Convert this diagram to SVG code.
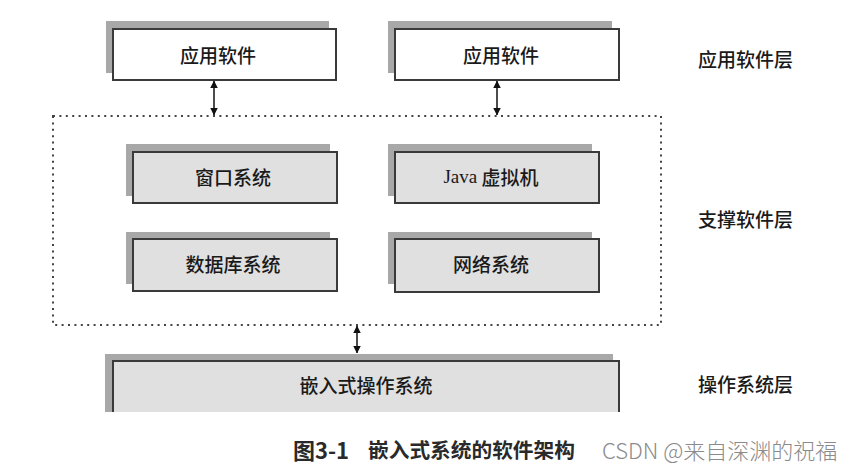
<svg xmlns="http://www.w3.org/2000/svg" width="851" height="473" viewBox="0 0 851 473">
<style>
.sh{fill:#a8a8a8}
.bw{fill:#ffffff;stroke:#3a3a3a;stroke-width:2}
.bg{fill:#e0e0e0;stroke:#3a3a3a;stroke-width:2}
.t{font-family:"Noto Sans CJK SC","Noto Sans",sans-serif;font-size:19px;font-weight:500;fill:#1a1a1a;text-anchor:middle;dominant-baseline:central}
.l{font-family:"Noto Sans CJK SC","Noto Sans",sans-serif;font-size:19px;font-weight:500;fill:#1a1a1a;dominant-baseline:central}
.dot{fill:none;stroke:#444;stroke-width:2;stroke-dasharray:2 4.4}
.ar{stroke:#111;stroke-width:1.5;fill:none;marker-start:url(#ah);marker-end:url(#ah)}
</style>
<defs>
<marker id="ah" viewBox="0 0 8 8" refX="7.5" refY="4" markerWidth="5" markerHeight="5" orient="auto-start-reverse" markerUnits="strokeWidth">
<path d="M0,0 L8,4 L0,8 Z" fill="#111"/>
</marker>
</defs>
<rect width="851" height="473" fill="#ffffff"/>
<g id="support-layer">
<rect class="dot" x="53" y="116" width="608" height="209"/>
</g>
<g id="app1">
<rect class="sh" x="106" y="21" width="223" height="52"/>
<rect class="bw" x="113" y="29" width="223" height="51"/>
<text class="t" x="218" y="54">应用软件</text>
</g>
<g id="app2">
<rect class="sh" x="388" y="21" width="224" height="52"/>
<rect class="bw" x="395" y="29" width="224" height="51"/>
<text class="t" x="501" y="54">应用软件</text>
</g>
<g id="window">
<rect class="sh" x="126" y="144" width="204" height="52"/>
<rect class="bg" x="133" y="152" width="204" height="51"/>
<text class="t" x="233" y="176">窗口系统</text>
</g>
<g id="java">
<rect class="sh" x="388" y="144" width="204" height="52"/>
<rect class="bg" x="395" y="152" width="204" height="51"/>
<text class="t" x="491" y="176"><tspan font-family="'Liberation Serif',serif" font-weight="normal">Java</tspan> 虚拟机</text>
</g>
<g id="database">
<rect class="sh" x="126" y="232" width="204" height="52"/>
<rect class="bg" x="133" y="239" width="204" height="52"/>
<text class="t" x="233" y="263">数据库系统</text>
</g>
<g id="network">
<rect class="sh" x="388" y="232" width="204" height="52"/>
<rect class="bg" x="395" y="239" width="204" height="53"/>
<text class="t" x="491" y="263">网络系统</text>
</g>
<g id="os">
<rect class="sh" x="105" y="354" width="508" height="58"/>
<rect x="113" y="361" width="506" height="51" fill="#e0e0e0"/>
<path d="M113,412 L113,361 L619,361 L619,412" fill="none" stroke="#3a3a3a" stroke-width="2"/>
<text class="t" x="366" y="384">嵌入式操作系统</text>
</g>
<g id="connectors">
<line class="ar" x1="214" y1="81" x2="214" y2="115"/>
<line class="ar" x1="497" y1="81" x2="497" y2="115"/>
<line class="ar" x1="357" y1="326" x2="357" y2="353"/>
</g>
<g id="layer-labels">
<text class="l" x="698" y="58">应用软件层</text>
<text class="l" x="698" y="218">支撑软件层</text>
<text class="l" x="698" y="383">操作系统层</text>
</g>
<g id="caption">
<text x="293" y="449" font-family="'Noto Sans CJK SC',sans-serif" font-size="22" font-weight="bold" fill="#2a2a2a" dominant-baseline="central">图3-1<tspan x="368" font-size="20.7">嵌入式系统的软件架构</tspan></text>
<text x="602" y="449" font-family="'Noto Sans CJK SC',sans-serif" font-size="22" font-weight="300" fill="#8a8a8a" dominant-baseline="central">CSDN @来自深渊的祝福</text>
</g>
</svg>
